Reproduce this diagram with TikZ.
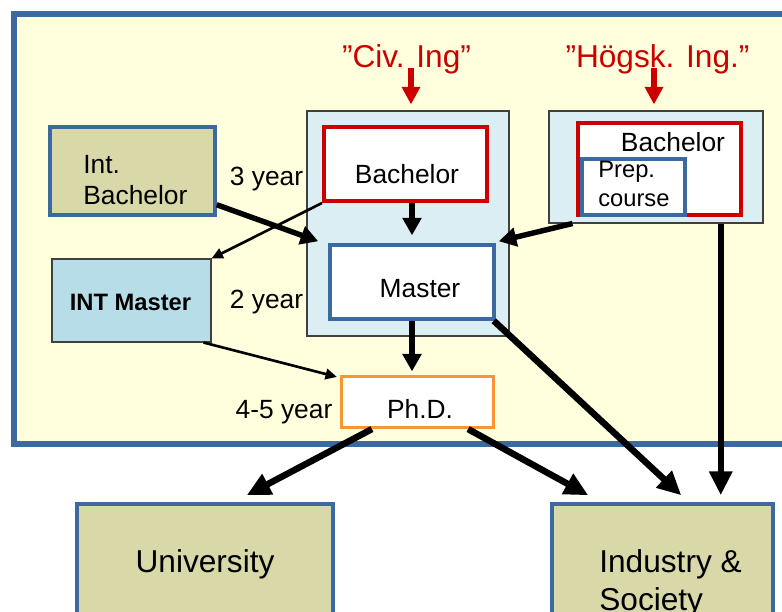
\documentclass[tikz,border=0pt]{standalone}
\usepackage{fontspec}
\setmainfont{Liberation Sans}
\usetikzlibrary{arrows.meta,calc,fit}

\definecolor{bgyellow}{RGB}{255,255,221}
\definecolor{frameblue}{RGB}{58,106,160}
\definecolor{khaki}{RGB}{216,216,168}
\definecolor{paleblue}{RGB}{218,238,243}
\definecolor{intblue}{RGB}{183,222,232}
\definecolor{ingred}{RGB}{204,0,0}
\definecolor{phdorange}{RGB}{250,150,50}

\tikzset{
	box/.style={inner sep=0pt, line width=2pt},
	bluebox/.style={box, draw=frameblue, fill=white},
	redbox/.style={box, draw=ingred, line width=2.3pt, fill=white},
	khakibox/.style={box, draw=frameblue, fill=khaki},
	contbox/.style={box, draw=black!75, line width=0.6pt, fill=paleblue},
	txt/.style={inner sep=0pt, font=\fontsize{15}{17.6}\selectfont},
	bigtxt/.style={inner sep=0pt, font=\fontsize{18}{21.6}\selectfont},
	smalltxt/.style={inner sep=0pt, font=\fontsize{13.5}{16.5}\selectfont},
	thickarr/.style={line width=3.1pt, -{Triangle[length=10pt,width=10.5pt]}},
	bigarr/.style={line width=3.7pt, -{Triangle[length=13.5pt,width=12.5pt]}},
	thinarr/.style={line width=1.5pt, -{Triangle[length=6.5pt,width=6pt]}},
	redarr/.style={draw=ingred, line width=3.5pt, shorten >=3.4pt, -{Triangle[length=10pt,width=10pt]}}
}

\begin{document}
\begin{tikzpicture}[x=0.02cm, y=-0.02cm]
			%%%%% START %%%%%
			\useasboundingbox (0,0) rectangle (782,612);
			
			\node[box, draw=frameblue, line width=3.4pt, fill=bgyellow, fit={(14,14) (800,444)}] (frame) {};
			
			\node[contbox, fit={(307,111) (509,336)}] (civcont) {};
			\node[contbox, fit={(549,111) (763,223)}] (hgcont) {};
			
			\node[redbox, fit={(324,127) (487,201)}] (civbach) {};
			\node[bluebox, fit={(330,245) (494,319)}] (master) {};
			\node[redbox, fit={(578,123) (741,215)}] (hgbach) {};
			\node[bluebox, fit={(582,159) (685,215)}] (prep) {};
			
			\node[khakibox, fit={(50,127) (215,215)}] (intbach) {};
			\node[contbox, fill=intblue, fit={(52,259) (211,342)}] (intmaster) {};
			\node[box, draw=phdorange, line width=1.8pt, fill=white, fit={(341.5,376.5) (493.5,427.5)}] (phd) {};
			
			\node[khakibox, fit={(77,504) (333,660)}] (univ) {};
			\node[khakibox, fit={(552,504) (773,660)}] (indus) {};
			
			% texts
			\node[bigtxt, text=ingred, anchor=base] (civlbl) at (406.5,68) {”Civ. Ing”};
			\node[bigtxt, text=ingred, anchor=base] (hglbl) at (657.5,68) {”Högsk. Ing.”};
			\node[txt, anchor=base] (civbachtxt) at (407,183) {Bachelor};
			\node[txt, anchor=base] (mastertxt) at (420,297) {Master};
			\node[txt, anchor=base] (hgbachtxt) at (673,151) {Bachelor};
			\node[smalltxt, align=left, anchor=north west] (preptxt) at (598,161) {Prep.\\course};
			\node[txt, align=left, anchor=north west] (intbachtxt) at (83,155) {Int.\\Bachelor};
			\node[smalltxt, font=\fontsize{13.5}{16.5}\selectfont\bfseries, anchor=base] (intmastertxt) at (130.5,310) {INT Master};
			\node[txt, anchor=base] (yrthree) at (266.5,185) {3 year};
			\node[txt, anchor=base] (yrtwo) at (266.5,308) {2 year};
			\node[txt, anchor=base] (yrphd) at (284,418) {4-5 year};
			\node[txt, anchor=base] (phdtxt) at (420,418) {Ph.D.};
			\node[bigtxt, anchor=base] (univtxt) at (205,572) {University};
			\node[bigtxt, align=left, anchor=north west] (industxt) at (599,549) {Industry \&\\Society};
			
			% arrows
			\coordinate (civtop) at ($(civlbl.base)+(4.5,0)$);
			\coordinate (hgtop) at ($(hglbl.base)+(-3.5,0)$);
			\draw[redarr] (civtop) -- (civtop |- civcont.north);
			\draw[redarr] (hgtop) -- (hgtop |- hgcont.north);
			
			\draw[thickarr, shorten >=4.5pt] (civbach.south -| master.north) -- (master.north);
			\draw[thickarr] ($(intbach.south east)+(0,-12)$) -- ($(master.north west)+(-10,-2)$);
			\draw[thinarr] (civbach.south west) -- (intmaster.north east);
			\draw[thickarr] ($(hgcont.south west)+(24,0)$) -- ($(master.north east)+(3,-2)$);
			
			\coordinate (hgdrop) at ($(indus.north east)+(-54,0)$);
			\draw[bigarr, shorten >=4pt] (hgdrop |- hgcont.south) -- (hgdrop);
			
			\draw[thinarr] ($(intmaster.south east)+(-8,0)$) -- ($(phd.north west)+(-3,2)$);
			\draw[thickarr, shorten >=2pt] (master.south) -- (master.south |- phd.north);
			
			\draw[bigarr] ($(master.south east)+(-2,0)$) -- ($(indus.north west)+(131,-7)$);
			\draw[bigarr] ($(phd.south east)+(-27,0)$) -- ($(indus.north west)+(38,-7)$);
			\draw[bigarr] ($(phd.south west)+(32,0)$) -- ($(univ.north east)+(-88,-7)$);
			%%%%% END %%%%%
\end{tikzpicture}
\end{document}
